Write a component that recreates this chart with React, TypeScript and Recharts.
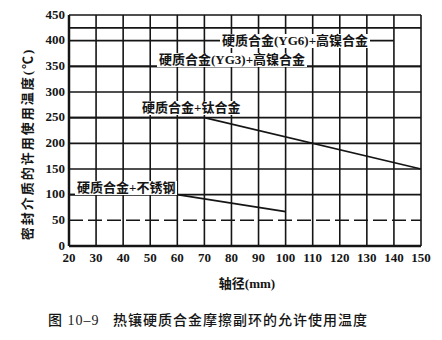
import React from 'react'
import { LineChart, Line, XAxis, YAxis, CartesianGrid, ReferenceLine } from 'recharts'

// 轴径 (mm) and 温度 (℃) axes
const diameterTicks = [20, 30, 40, 50, 60, 70, 80, 90, 100, 110, 120, 130, 140, 150]
const tempTicks = [0, 50, 100, 150, 200, 250, 300, 350, 400, 450]
const gridTemps = [0, 100, 150, 200, 250, 300, 350, 425, 450]

// 硬质合金(YG6)+高镍合金
const yg6Diameters = [20, 140]
const yg6Temps = [400, 400]
// 硬质合金(YG3)+高镍合金
const yg3Diameters = [20, 150]
const yg3Temps = [350, 350]
// 硬质合金+钛合金
const tiDiameters = [20, 70, 150]
const tiTemps = [250, 250, 150]
// 硬质合金+不锈钢
const ssDiameters = [20, 60, 100]
const ssTemps = [100, 100, 67]

const toPoints = (xs: number[], ys: number[]) => xs.map((d, i) => ({ d, t: ys[i] }))

const ink = '#151515'
const latinCjk = "'Liberation Serif', 'Noto Sans CJK SC', serif"

const curveLabel = (left: number, top: number): React.CSSProperties => ({
  position: 'absolute',
  left,
  top,
  background: '#fff',
  padding: '0 2px',
  fontFamily: latinCjk,
  fontWeight: 700,
  fontSize: 13,
  lineHeight: '14px',
  color: ink,
  whiteSpace: 'nowrap',
})

const tickFont = { fill: ink, fontSize: 13, fontWeight: 700, fontFamily: 'Liberation Serif' }

export default function App() {
  const series = [
    toPoints(yg6Diameters, yg6Temps),
    toPoints(yg3Diameters, yg3Temps),
    toPoints(tiDiameters, tiTemps),
    toPoints(ssDiameters, ssTemps),
  ]

  return (
    <div style={{ position: 'absolute', left: 0, top: 0, width: 442, height: 340, background: '#fff', overflow: 'hidden' }}>
      <LineChart width={442} height={300} margin={{ top: 15, right: 21, left: 19, bottom: 24 }}>
        <CartesianGrid stroke={ink} strokeWidth={1.6} horizontalValues={gridTemps} verticalValues={diameterTicks} />
        <ReferenceLine y={50} stroke={ink} strokeWidth={1.5} strokeDasharray="14 5" />
        <XAxis
          type="number"
          dataKey="d"
          domain={[20, 150]}
          ticks={diameterTicks}
          interval={0}
          height={30}
          axisLine={{ stroke: ink, strokeWidth: 2.5 }}
          tickLine={false}
          tickSize={4}
          tickMargin={3}
          tick={tickFont}
        />
        <YAxis
          type="number"
          dataKey="t"
          domain={[0, 450]}
          ticks={tempTicks}
          interval={0}
          width={50}
          axisLine={{ stroke: ink, strokeWidth: 2.5 }}
          tickLine={false}
          tickSize={3}
          tickMargin={1}
          tick={{ ...tickFont, dy: -1 }}
        />
        {series.map((pts, i) => (
          <Line
            key={i}
            data={pts}
            dataKey="t"
            type="linear"
            stroke={ink}
            strokeWidth={1.6}
            dot={false}
            activeDot={false}
            isAnimationActive={false}
          />
        ))}
      </LineChart>

      {/* curve labels */}
      <div style={curveLabel(220, 34)}>硬质合金(YG6)+高镍合金</div>
      <div style={curveLabel(157, 53)}>硬质合金(YG3)+高镍合金</div>
      <div style={curveLabel(140, 101)}>硬质合金+钛合金</div>
      <div style={curveLabel(75, 181)}>硬质合金+不锈钢</div>

      {/* y axis title */}
      <div
        style={{
          position: 'absolute',
          left: 26,
          top: 144,
          transform: 'translate(-50%, -50%) rotate(-90deg)',
          fontFamily: latinCjk,
          fontWeight: 700,
          fontSize: 13,
          letterSpacing: 2,
          color: ink,
          whiteSpace: 'nowrap',
        }}
      >
        密封介质的许用使用温度(℃)
      </div>

      {/* x axis title */}
      <div
        style={{
          position: 'absolute',
          left: 247,
          top: 282,
          transform: 'translate(-50%, -50%)',
          fontFamily: latinCjk,
          fontWeight: 700,
          fontSize: 13,
          color: ink,
          whiteSpace: 'nowrap',
        }}
      >
        轴径(mm)
      </div>

      {/* caption */}
      <div
        style={{
          position: 'absolute',
          left: 48,
          top: 309,
          fontFamily: latinCjk,
          fontWeight: 500,
          fontSize: 14,
          letterSpacing: 1,
          color: ink,
          whiteSpace: 'pre',
        }}
      >
        {'图 10–9   热镶硬质合金摩擦副环的允许使用温度'}
      </div>
    </div>
  )
}
